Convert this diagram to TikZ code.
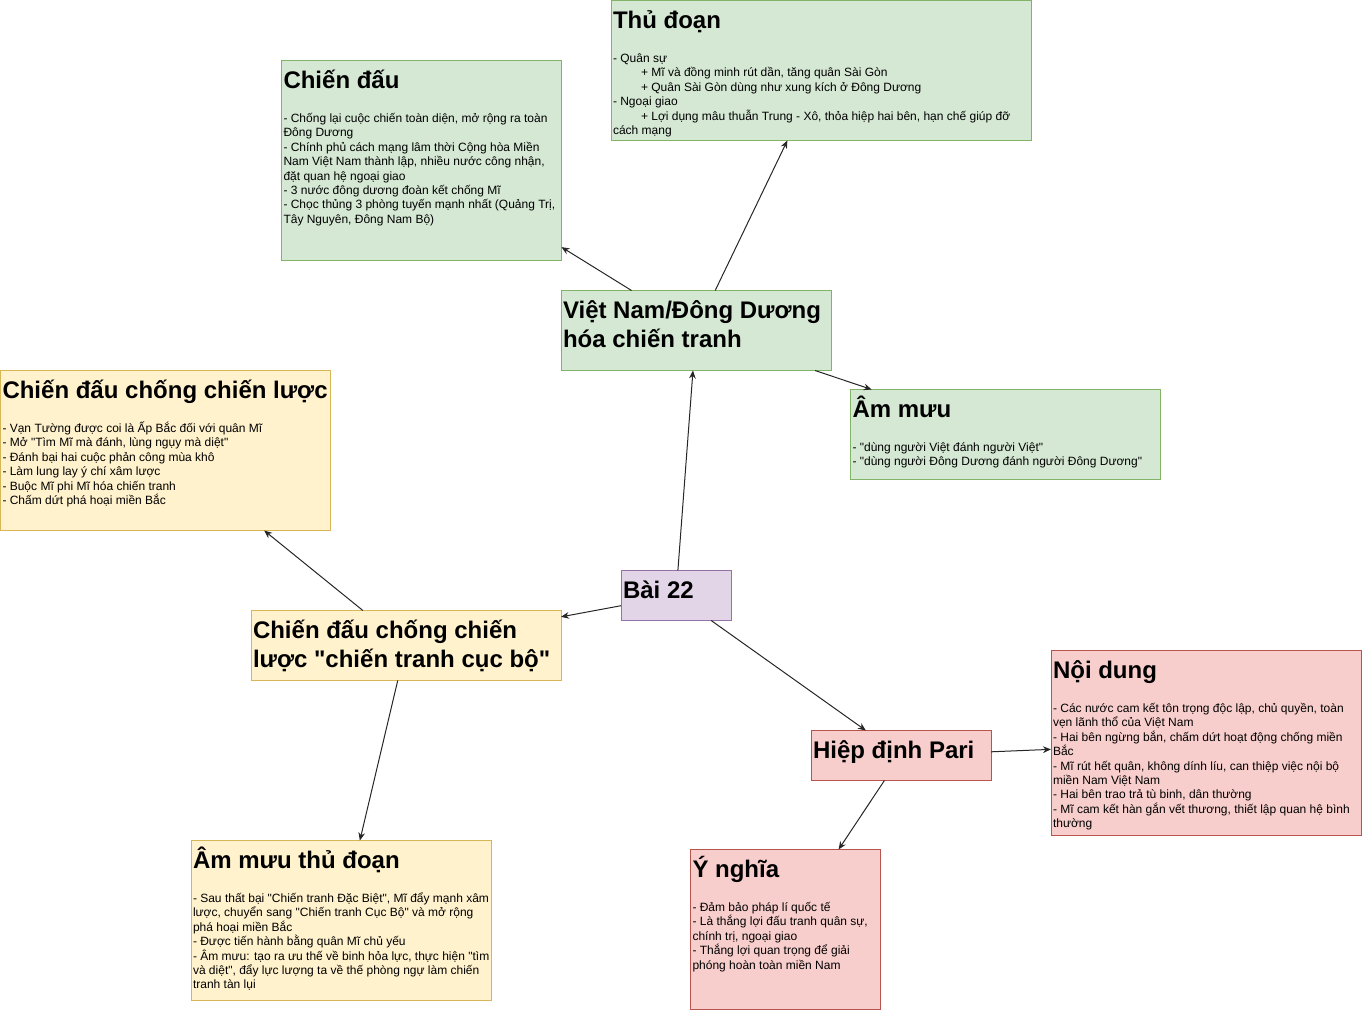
\documentclass[tikz,border=0pt]{standalone}
\usepackage{fontspec}
\setmainfont{Liberation Sans}[Ligatures=TeXOff]
\usetikzlibrary{arrows.meta,calc}
\definecolor{gfill}{HTML}{D5E8D4}\definecolor{gline}{HTML}{82B366}
\definecolor{yfill}{HTML}{FFF2CC}\definecolor{yline}{HTML}{D6B656}
\definecolor{pfill}{HTML}{E1D5E7}\definecolor{pline}{HTML}{9673A6}
\definecolor{rfill}{HTML}{F8CECC}\definecolor{rline}{HTML}{B85450}
\newcommand{\bst}{\rule{0pt}{11pt}}
\newcommand{\tst}{\rule{0pt}{20pt}}
\newcommand{\ind}{\hspace*{21pt}}
\newcommand{\nls}{\lineskiplimit=-50pt\relax}
\newcommand{\ttlfont}{\fontsize{18}{21.75}\selectfont\bfseries\nls}
\newcommand{\bodfont}{\fontsize{9}{10.8}\selectfont\nls}
\begin{document}
\begin{tikzpicture}[x=0.75pt,y=-0.75pt,
  box/.style={draw, line width=0.75pt, inner sep=0pt, outer sep=0pt, anchor=north west},
  sz/.style 2 args={minimum width=#1*0.75pt, minimum height=#2*0.75pt},
  gbox/.style={box, fill=gfill, draw=gline},
  ybox/.style={box, fill=yfill, draw=yline},
  pbox/.style={box, fill=pfill, draw=pline},
  rbox/.style={box, fill=rfill, draw=rline},
  ttl/.style={anchor=north west, inner sep=0pt, outer sep=0pt, align=left, font=\ttlfont},
  bod/.style={anchor=north west, inner sep=0pt, outer sep=0pt, align=left, font=\bodfont},
  conn/.style={draw=black!85, line width=0.75pt, -{Stealth[length=6pt,width=5pt]}}
]
\useasboundingbox (0,0) rectangle (1362,1013);

% boxes
\node[gbox, sz={420}{140}] (tdoan) at (611,0.5) {};
\node[gbox, sz={280}{200}] (cdau) at (281.5,60.5) {};
\node[gbox, sz={270}{80}] (vn) at (561,290.5) {};
\node[gbox, sz={310}{90}] (ammuu) at (850.5,389.5) {};
\node[ybox, sz={330}{160}] (ccl) at (0.5,370.5) {};
\node[pbox, sz={110}{50}] (bai22) at (621,570.5) {};
\node[ybox, sz={310}{70}] (cucbo) at (251,610.5) {};
\node[ybox, sz={300}{160}] (amtd) at (191,840.5) {};
\node[rbox, sz={180}{50}] (hiep) at (811,730.5) {};
\node[rbox, sz={310}{185}] (noidung) at (1051,650.5) {};
\node[rbox, sz={190}{160}] (ynghia) at (690.5,849.5) {};

% connectors
\draw[conn] (bai22) -- (vn);
\draw[conn] (bai22) -- (cucbo);
\draw[conn] (bai22) -- (hiep);
\draw[conn] (vn) -- (cdau);
\draw[conn] (vn) -- (tdoan);
\draw[conn] (vn) -- (ammuu);
\draw[conn] (cucbo) -- (ccl);
\draw[conn] (cucbo) -- (amtd);
\draw[conn] (hiep) -- (noidung);
\draw[conn] (hiep) -- (ynghia);

% titles
\node[ttl] (tdoanT) at ($(tdoan.north west)+(2,1.33)$) {\tst Thủ đoạn};
\node[ttl] (cdauT) at ($(cdau.north west)+(2,1.33)$) {\tst Chiến đấu};
\node[ttl] (vnT) at ($(vn.north west)+(2,1.33)$) {\tst Việt Nam/Đông Dương\\hóa chiến tranh};
\node[ttl] (ammuuT) at ($(ammuu.north west)+(2,1.33)$) {\tst Âm mưu};
\node[ttl] (cclT) at ($(ccl.north west)+(2,1.33)$) {\tst Chiến đấu chống chiến lược};
\node[ttl] (bai22T) at ($(bai22.north west)+(2,1.33)$) {\tst Bài 22};
\node[ttl] (cucboT) at ($(cucbo.north west)+(2,1.33)$) {\tst Chiến đấu chống chiến\\lược "chiến tranh cục bộ"};
\node[ttl] (amtdT) at ($(amtd.north west)+(2,1.33)$) {\tst Âm mưu thủ đoạn};
\node[ttl] (hiepT) at ($(hiep.north west)+(2,1.33)$) {\tst Hiệp định Pari};
\node[ttl] (noidungT) at ($(noidung.north west)+(2,1.33)$) {\tst Nội dung};
\node[ttl] (ynghiaT) at ($(ynghia.north west)+(2,1.33)$) {\tst Ý nghĩa};

% bodies
\node[bod] (tdoanB) at ($(tdoan.north west)+(2,47.33)$) {\bst - Quân sự\\
\ind + Mĩ và đồng minh rút dần, tăng quân Sài Gòn\\
\ind + Quân Sài Gòn dùng như xung kích ở Đông Dương\\
- Ngoại giao\\
\ind + Lợi dụng mâu thuẫn Trung - Xô, thỏa hiệp hai bên, hạn chế giúp đỡ\\
cách mạng};

\node[bod] (cdauB) at ($(cdau.north west)+(2,47.33)$) {\bst - Chống lại cuộc chiến toàn diện, mở rộng ra toàn\\
Đông Dương\\
- Chính phủ cách mạng lâm thời Cộng hòa Miền\\
Nam Việt Nam thành lập, nhiều nước công nhận,\\
đặt quan hệ ngoại giao\\
- 3 nước đông dương đoàn kết chống Mĩ\\
- Chọc thủng 3 phòng tuyến mạnh nhất (Quảng Trị,\\
Tây Nguyên, Đông Nam Bộ)};

\node[bod] (ammuuB) at ($(ammuu.north west)+(2,47.33)$) {\bst - "dùng người Việt đánh người Việt"\\
- "dùng người Đông Dương đánh người Đông Dương"};

\node[bod] (cclB) at ($(ccl.north west)+(2,47.33)$) {\bst - Vạn Tường được coi là Ấp Bắc đối với quân Mĩ\\
- Mở "Tìm Mĩ mà đánh, lùng ngụy mà diệt"\\
- Đánh bại hai cuộc phản công mùa khô\\
- Làm lung lay ý chí xâm lược\\
- Buộc Mĩ phi Mĩ hóa chiến tranh\\
- Chấm dứt phá hoại miền Bắc};

\node[bod] (amtdB) at ($(amtd.north west)+(2,47.33)$) {\bst - Sau thất bại "Chiến tranh Đặc Biệt", Mĩ đẩy mạnh xâm\\
lược, chuyển sang "Chiến tranh Cục Bộ" và mở rộng\\
phá hoại miền Bắc\\
- Được tiến hành bằng quân Mĩ chủ yếu\\
- Âm mưu: tạo ra ưu thế về binh hỏa lực, thực hiện "tìm\\
và diệt", đẩy lực lượng ta về thế phòng ngự làm chiến\\
tranh tàn lụi};

\node[bod] (noidungB) at ($(noidung.north west)+(2,47.33)$) {\bst - Các nước cam kết tôn trọng độc lập, chủ quyền, toàn\\
vẹn lãnh thổ của Việt Nam\\
- Hai bên ngừng bắn, chấm dứt hoạt động chống miền\\
Bắc\\
- Mĩ rút hết quân, không dính líu, can thiệp việc nội bộ\\
miền Nam Việt Nam\\
- Hai bên trao trả tù binh, dân thường\\
- Mĩ cam kết hàn gắn vết thương, thiết lập quan hệ bình\\
thường};

\node[bod] (ynghiaB) at ($(ynghia.north west)+(2,47.33)$) {\bst - Đảm bảo pháp lí quốc tế\\
- Là thắng lợi đấu tranh quân sự,\\
chính trị, ngoại giao\\
- Thắng lợi quan trọng để giải\\
phóng hoàn toàn miền Nam};
\end{tikzpicture}
\end{document}
